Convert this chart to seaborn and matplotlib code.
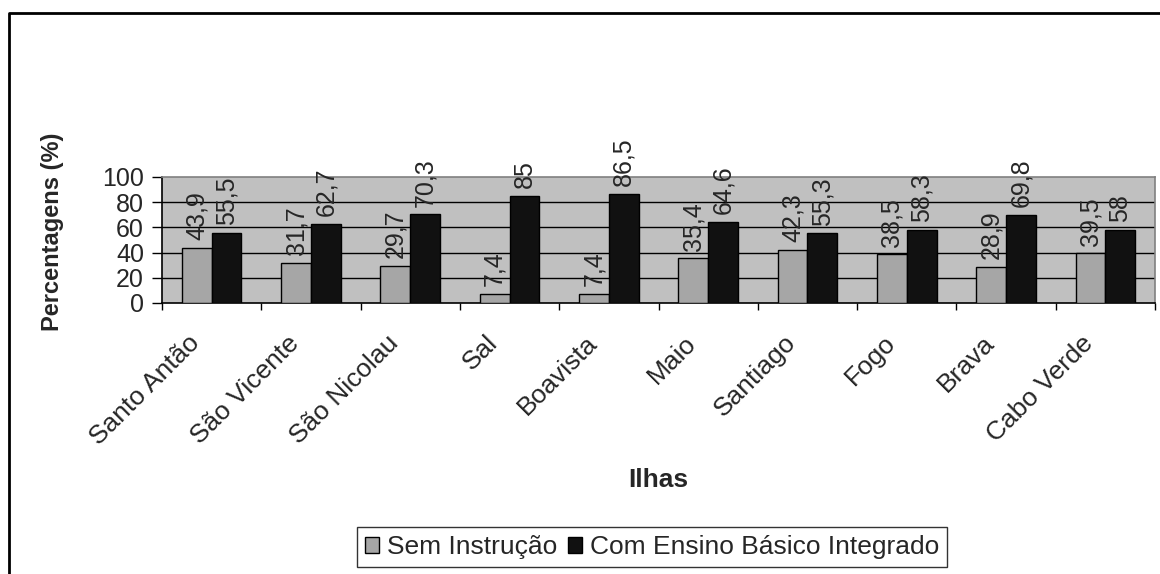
import matplotlib
matplotlib.use("Agg")
import matplotlib.pyplot as plt
from matplotlib.lines import Line2D
from matplotlib.patches import Patch
from matplotlib.transforms import ScaledTranslation
import seaborn as sns
import pandas as pd

ilhas = ["Santo Antão", "São Vicente", "São Nicolau", "Sal", "Boavista",
         "Maio", "Santiago", "Fogo", "Brava", "Cabo Verde"]
sem_instrucao = [43.9, 31.7, 29.7, 7.4, 7.4, 35.4, 42.3, 38.5, 28.9, 39.5]
ensino_basico = [55.5, 62.7, 70.3, 85, 86.5, 64.6, 55.3, 58.3, 69.8, 58]
series = ["Sem Instrução", "Com Ensino Básico Integrado"]
y_ticks = [0, 20, 40, 60, 80, 100]

df = pd.DataFrame({
    "Ilha": ilhas * 2,
    "valor": sem_instrucao + ensino_basico,
    "serie": [series[0]] * len(ilhas) + [series[1]] * len(ilhas),
})

sns.set_style("white")
plt.rcParams["font.family"] = ["Liberation Sans", "DejaVu Sans"]

W, H = 1160, 574
fig = plt.figure(figsize=(W / 100, H / 100), dpi=100)
ax = fig.add_axes([162 / W, 1 - 303 / H, (1155 - 162) / W, (303 - 177) / H])
ax.set_facecolor("#c0c0c0")

cores = ["#a6a6a6", "#111111"]
sns.barplot(data=df, x="Ilha", y="valor", hue="serie", palette=cores,
            width=0.6, edgecolor="black", linewidth=1.0, ax=ax,
            legend=False, zorder=3)

ax.set_ylim(0, 100)
ax.set_xlim(-0.5, len(ilhas) - 0.5)
ax.set_yticks(y_ticks)
ax.set_yticklabels([str(t) for t in y_ticks], fontsize=18)
for t in y_ticks[1:-1]:
    ax.axhline(t, color="black", linewidth=1.0, zorder=1)

# ticks on category boundaries, labels at centres
ax.set_xticks([i - 0.5 for i in range(len(ilhas) + 1)])
ax.set_xticklabels([])
ax.set_xticks(range(len(ilhas)), minor=True)
ax.set_xticklabels(ilhas, minor=True, rotation=45, ha="right",
                   rotation_mode="anchor", fontsize=19)
ax.tick_params(axis="x", which="minor", length=0, pad=20)
ax.tick_params(axis="x", which="major", direction="out", length=5, width=1,
               color="black", bottom=True)
ax.tick_params(axis="y", direction="out", length=7, width=1, color="black",
               left=True, pad=6)
shift = ScaledTranslation(-24 / 100, 0, fig.dpi_scale_trans)
for lab in ax.get_xticklabels(minor=True):
    lab.set_transform(lab.get_transform() + shift)

for s in ["top", "right"]:
    ax.spines[s].set_color("#808080")
    ax.spines[s].set_linewidth(1.2)
for s in ["left", "bottom"]:
    ax.spines[s].set_color("black")
    ax.spines[s].set_linewidth(1.2)

ax.set_xlabel("")
ax.set_ylabel("")

# value labels above each bar
for container in ax.containers:
    for bar in container:
        v = bar.get_height()
        txt = f"{v:g}".replace(".", ",")
        ax.annotate(txt, (bar.get_x() + bar.get_width() / 2, v),
                    xytext=(0, 5.5), textcoords="offset points",
                    rotation=90, ha="center", va="bottom", fontsize=18,
                    annotation_clip=False, zorder=4)

fig.text(658 / W, 1 - 480 / H, "Ilhas", ha="center", va="center",
         fontsize=19, fontweight="bold")
fig.text(53 / W, 1 - 232 / H, "Percentagens (%)", ha="center", va="center",
         rotation=90, fontsize=17, fontweight="bold")

handles = [Patch(facecolor=c, edgecolor="black", linewidth=1.0) for c in cores]
leg = fig.legend(handles, series, loc="center", bbox_to_anchor=(652 / W, 1 - 547 / H),
                 ncol=2, fontsize=19, frameon=True, fancybox=False,
                 handlelength=0.55, handleheight=0.55, handletextpad=0.3,
                 columnspacing=0.4, borderpad=0.3, borderaxespad=0)
leg.get_frame().set_edgecolor("black")
leg.get_frame().set_linewidth(1.0)

# outer chart frame
fig.add_artist(Line2D([9 / W, 9 / W, 1.0], [0.0, 1 - 13 / H, 1 - 13 / H],
                      transform=fig.transFigure, color="black", linewidth=2))

fig.savefig("out.png", dpi=100, facecolor="white")
